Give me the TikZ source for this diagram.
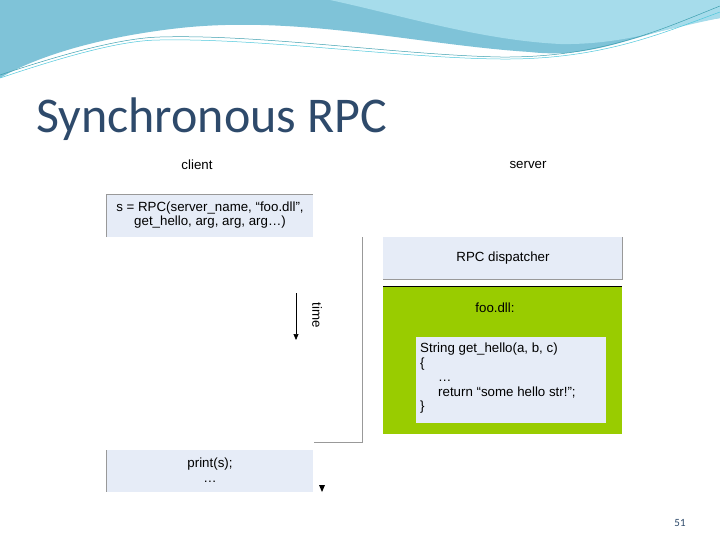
\documentclass[tikz,border=0pt]{standalone}
\usepackage{fontspec}
\setmainfont{Liberation Sans}
\newfontfamily\titlefont{Carlito}
\usetikzlibrary{arrows.meta}
\definecolor{lightbox}{HTML}{E6ECF7}
\definecolor{grn}{HTML}{99CC00}
\definecolor{titlec}{HTML}{2E4A6B}
\definecolor{wave1}{HTML}{7FC3D8}
\definecolor{wave2}{HTML}{A6DCEB}
\definecolor{wave3}{HTML}{4FC8DC}
\tikzset{lbl/.style={font=\fontsize{13.3}{14.5}\selectfont, inner sep=1pt},
 edge/.style={draw=gray!80, line width=0.8pt}}
\begin{document}
\begin{tikzpicture}[x=1pt,y=-1pt]
\useasboundingbox (0,0) rectangle (720,540);
\fill[white] (0,0) rectangle (720,540);
% header waves
\fill[wave1] (0,0) -- (720,0) -- (720,18) .. controls (640,30) and (600,60) .. (530,52)
  .. controls (420,45) and (300,15) .. (180,28) .. controls (90,38) and (30,60) .. (0,78) -- cycle;
\fill[wave2] (330,0) -- (720,0) -- (720,18) .. controls (660,30) and (620,45) .. (560,44)
  .. controls (480,40) and (400,15) .. (330,0) -- cycle;
\draw[wave3!80!black, line width=0.5pt] (0,75) .. controls (60,55) and (120,38) .. (160,37)
  .. controls (260,34) and (400,55) .. (500,57) .. controls (600,58) and (660,30) .. (720,6);
\draw[wave3, line width=0.5pt] (0,78) .. controls (60,58) and (120,40) .. (160,40)
  .. controls (260,38) and (400,58) .. (500,59) .. controls (600,60) and (660,34) .. (720,12);
% title
\node[anchor=base west, inner sep=0, text=titlec, font=\titlefont\fontsize{50}{54}\selectfont] (title) at (36,133) {Synchronous RPC};
\node[lbl] (client) at (197,165) {client};
\node[lbl] (server) at (528,165) {server};
% client box 1
\fill[lightbox] (107,194) rectangle (313,237);
\draw[edge] (106,237) -- (106,194) -- (313,194);
\node[lbl, align=center] (call) at (210,215) {s = RPC(server\_name, “foo.dll”,\\get\_hello, arg, arg, arg…)};
% connector
\draw[edge] (362,237) -- (362,442) -- (314,442);
% dispatcher
\fill[lightbox] (383,237) rectangle (622,279);
\draw[edge] (383,279) -- (622,279) -- (622,237);
\node[lbl] (disp) at (503,258) {RPC dispatcher};
% green
\fill[grn] (383,286) rectangle (622,434);
\draw[black, line width=0.6pt] (383,286) -- (622,286);
\node[lbl] (foo) at (495,308) {foo.dll:};
\fill[lightbox] (416,337) rectangle (606,423);
\node[lbl, anchor=north west, align=left, font=\fontsize{13.3}{14.5}\selectfont] (code) at (419,342) {String get\_hello(a, b, c)\\\{\\\hspace{18pt}…\\\hspace{18pt}return “some hello str!”;\\\}};
% time arrow
\coordinate (ta) at (296,293); \coordinate (tb) at (296,340);
\draw[-{Triangle[length=6pt,width=5pt]}, line width=0.7pt] (ta) -- (tb);
\node[lbl, rotate=-90] (time) at (317,315) {time};
% print box
\fill[lightbox] (107,450) rectangle (313,492);
\draw[edge] (106,450) -- (106,492);
\node[lbl, align=center] (print) at (210,470) {print(s);\\…};
\fill (319,485) -- (325,485) -- (322,492) -- cycle;
\node[font=\titlefont\fontsize{11}{12}\selectfont, text=titlec] (pg) at (680,523) {51};
\end{tikzpicture}
\end{document}
